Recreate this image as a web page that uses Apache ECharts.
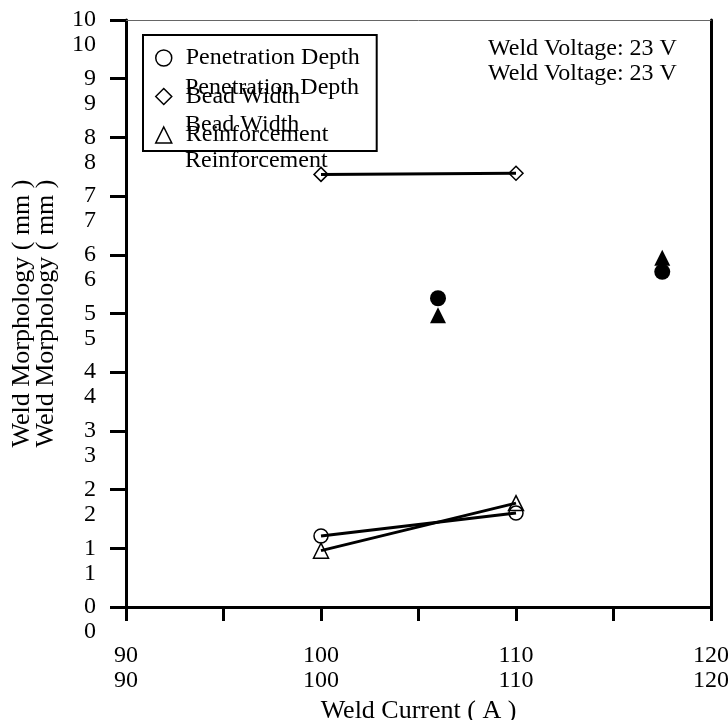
<!DOCTYPE html>
<html style="height: 100%">
<head>
    <meta charset="UTF-8">
    <title>Weld Morphology</title>
</head>
<body style="height: 100%; margin: 0; background: #fff">
    <div id="container" style="width: 728px; height: 720px"></div>

    <script src="https://cdn.jsdelivr.net/npm/echarts@6/dist/echarts.min.js"></script>

    <script type="text/javascript">
        // values
        var seriesNames = ['Penetration Depth', 'Bead Width', 'Reinforcement'];
        var currents = [100, 110];
        var penetration = [1.21, 1.60];
        var beadWidth = [7.37, 7.39];
        var reinforcement = [0.96, 1.77];
        var filledCurrents = [106, 117.5];
        var filledPenetration = [5.26, 5.71];
        var filledReinforcement = [4.97, 5.95];
        var noteText = 'Weld Voltage: 23 V';

        var FONT = 'Liberation Serif';

        function pairs(xs, ys) {
            return xs.map(function (x, i) { return [x, ys[i]]; });
        }

        var hollow = {color: 'rgba(255,255,255,0)', borderColor: '#000', borderWidth: 1.5, opacity: 1};
        var legendIcons = ['circle', 'diamond', 'triangle'];

        var dom = document.getElementById('container');
        var myChart = echarts.init(dom);

        var option = {
            animation: false,
            backgroundColor: '#fff',
            textStyle: {fontFamily: FONT, color: '#000'},
            title: {
                text: noteText + '\n' + noteText,
                left: 488,
                top: 36,
                padding: 0,
                textStyle: {fontFamily: FONT, fontSize: 24, fontWeight: 'normal', color: '#000', lineHeight: 25}
            },
            legend: [
                {
                    orient: 'vertical',
                    left: 143,
                    top: 35,
                    padding: [11, 17, 4, 12],
                    itemWidth: 16,
                    itemHeight: 16,
                    itemGap: 14.5,
                    borderColor: '#000',
                    borderWidth: 2,
                    textStyle: {fontFamily: FONT, fontSize: 24, color: '#000', lineHeight: 24, padding: [0, 0, 0, 9]},
                    data: seriesNames.map(function (n, i) {
                        return {name: n, icon: legendIcons[i], itemStyle: hollow};
                    })
                },
                {
                    orient: 'vertical',
                    left: 143,
                    top: 65,
                    padding: [11, 17, 4, 12],
                    itemWidth: 16,
                    itemHeight: 16,
                    itemGap: 12.5,
                    icon: 'none',
                    textStyle: {fontFamily: FONT, fontSize: 24, color: '#000', lineHeight: 24, padding: [0, 0, 0, 9]},
                    data: seriesNames
                }
            ],
            grid: {left: 126, right: 17, top: 20, bottom: 113, outerBoundsMode: 'none'},
            xAxis: [
                {
                    type: 'value',
                    min: 90,
                    max: 120,
                    interval: 5,
                    name: 'Weld Current ( A )',
                    nameLocation: 'middle',
                    nameGap: 89,
                    nameTextStyle: {fontFamily: FONT, fontSize: 26, color: '#000'},
                    splitLine: {show: false},
                    axisLine: {onZero: false, lineStyle: {color: '#000', width: 3}},
                    axisTick: {inside: false, length: 14, lineStyle: {color: '#000', width: 3}},
                    axisLabel: {
                        margin: 36,
                        showMinLabel: true,
                        showMaxLabel: true,
                        fontFamily: FONT,
                        fontSize: 24,
                        lineHeight: 25,
                        color: '#000',
                        formatter: function (v) {
                            return v % 10 === 0 ? v + '\n' + v : '';
                        }
                    }
                },
                {
                    type: 'value',
                    position: 'top',
                    min: 90,
                    max: 120,
                    splitLine: {show: false},
                    axisLine: {onZero: false, lineStyle: {color: '#666', width: 1}},
                    axisTick: {show: false},
                    axisLabel: {show: false}
                }
            ],
            yAxis: [
                {
                    type: 'value',
                    min: 0,
                    max: 10,
                    interval: 1,
                    name: 'Weld Morphology ( mm )\nWeld Morphology ( mm )',
                    nameLocation: 'middle',
                    nameGap: 68,
                    nameTextStyle: {fontFamily: FONT, fontSize: 26, color: '#000', lineHeight: 24},
                    splitLine: {show: false},
                    axisLine: {onZero: false, lineStyle: {color: '#000', width: 3}},
                    axisTick: {inside: false, length: 16, lineStyle: {color: '#000', width: 3}},
                    axisLabel: {
                        margin: 30,
                        showMinLabel: true,
                        showMaxLabel: true,
                        fontFamily: FONT,
                        fontSize: 24,
                        lineHeight: 24,
                        color: '#000'
                    }
                },
                {
                    // second, shifted copy of the tick labels
                    type: 'value',
                    position: 'left',
                    min: 0,
                    max: 10,
                    interval: 1,
                    splitLine: {show: false},
                    axisLine: {show: false},
                    axisTick: {show: false},
                    axisLabel: {
                        margin: 30,
                        showMinLabel: true,
                        showMaxLabel: true,
                        fontFamily: FONT,
                        fontSize: 24,
                        lineHeight: 24,
                        verticalAlign: 'top',
                        padding: [13, 0, 0, 0],
                        color: '#000'
                    }
                },
                {
                    type: 'value',
                    position: 'right',
                    min: 0,
                    max: 10,
                    splitLine: {show: false},
                    axisLine: {onZero: false, lineStyle: {color: '#000', width: 3}},
                    axisTick: {show: false},
                    axisLabel: {show: false}
                }
            ],
            series: [
                {
                    name: seriesNames[0],
                    type: 'line',
                    symbol: 'circle',
                    symbolSize: 14,
                    itemStyle: hollow,
                    lineStyle: {color: '#000', width: 3},
                    data: pairs(currents, penetration)
                },
                {
                    name: seriesNames[1],
                    type: 'line',
                    symbol: 'diamond',
                    symbolSize: 14,
                    itemStyle: hollow,
                    lineStyle: {color: '#000', width: 3},
                    data: pairs(currents, beadWidth)
                },
                {
                    name: seriesNames[2],
                    type: 'line',
                    symbol: 'triangle',
                    symbolSize: 15,
                    itemStyle: hollow,
                    lineStyle: {color: '#000', width: 3},
                    data: pairs(currents, reinforcement)
                },
                {
                    name: 'Penetration Depth (filled)',
                    type: 'scatter',
                    symbol: 'circle',
                    symbolSize: 16,
                    itemStyle: {color: '#000', opacity: 1},
                    data: pairs(filledCurrents, filledPenetration)
                },
                {
                    name: 'Reinforcement (filled)',
                    type: 'scatter',
                    symbol: 'triangle',
                    symbolSize: 16,
                    itemStyle: {color: '#000', opacity: 1},
                    data: pairs(filledCurrents, filledReinforcement)
                }
            ]
        };

        myChart.setOption(option);
    </script>
</body>
</html>
